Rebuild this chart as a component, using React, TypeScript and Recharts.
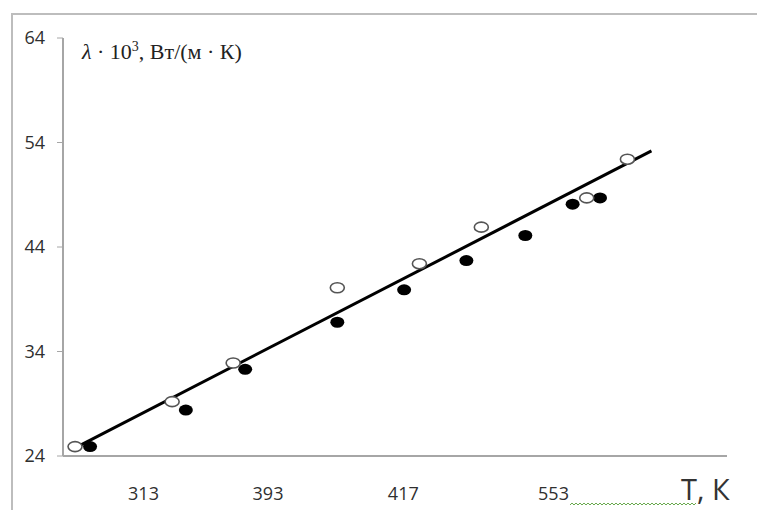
import React from 'react';
import { ScatterChart, Scatter, XAxis, YAxis } from 'recharts';

// T is placed on the chart's 0..8 slot scale: the printed kelvin labels are not evenly spaced
const openT = [0.145, 1.315, 2.05, 3.305, 4.294, 5.04, 6.31, 6.8];
const openLambda = [24.9, 29.2, 32.9, 40.1, 42.4, 45.9, 48.7, 52.4];
const filledT = [0.326, 1.48, 2.195, 3.305, 4.11, 4.86, 5.57, 6.14, 6.47];
const filledLambda = [24.9, 28.4, 32.3, 36.8, 39.9, 42.7, 45.1, 48.1, 48.7];
const fitT = [0.2, 7.09];
const fitLambda = [25.0, 53.2];

const yTicks = [24, 34, 44, 54, 64];
const xTickMarks = [1, 2, 3, 4, 5, 6, 7];
const xLabelPos = [0.97, 2.47, 4.1, 5.91];
const xLabels = ['313', '393', '417', '553'];

const openData = openT.map((x, i) => ({ x, y: openLambda[i] }));
const filledData = filledT.map((x, i) => ({ x, y: filledLambda[i] }));
const fitData = fitT.map((x, i) => ({ x, y: fitLambda[i] }));

const tickFont = { fill: '#2f2f2f', fontSize: 18, fontFamily: 'Open Sans' };

const OpenDot = (p: any) => (
  <ellipse cx={p.cx} cy={p.cy} rx={7} ry={5} fill="#fff" stroke="#555" strokeWidth={1.6} />
);
const FilledDot = (p: any) => <ellipse cx={p.cx} cy={p.cy} rx={7} ry={5.5} fill="#000" />;

// x label tick: looks up the printed kelvin value for this position
const KelvinTick = (p: any) => {
  const i = xLabelPos.indexOf(p.payload.value);
  return (
    <text x={p.x} y={p.y} dy={12} textAnchor="middle" {...tickFont}>
      {i >= 0 ? xLabels[i] : ''}
    </text>
  );
};

export default function App() {
  return (
    <div style={{ position: 'absolute', left: 0, top: 0, width: 757, height: 510, background: '#fff', fontFamily: 'Open Sans' }}>
      {/* outer frame */}
      <div style={{ position: 'absolute', left: 11, top: 13, right: 0, bottom: 0, borderTop: '2px solid #bdbdbd', borderLeft: '2px solid #bdbdbd' }} />

      <ScatterChart width={757} height={510} margin={{ top: 38, right: 30, bottom: 0, left: 0 }} style={{ position: 'absolute', left: 0, top: 0 }}>
        <XAxis
          type="number"
          dataKey="x"
          domain={[0, 8]}
          ticks={xTickMarks}
          tick={false}
          tickSize={3}
          height={8}
          stroke="#a6a6a6"
          axisLine={{ stroke: '#a6a6a6', strokeWidth: 2 }}
        />
        <XAxis
          xAxisId="labels"
          type="number"
          dataKey="x"
          domain={[0, 8]}
          ticks={xLabelPos}
          interval={0}
          axisLine={false}
          tickLine={false}
          tickSize={0}
          tickMargin={24}
          height={46}
          tick={<KelvinTick />}
        />
        <YAxis
          type="number"
          dataKey="y"
          domain={[24, 64]}
          ticks={yTicks}
          width={63}
          tickSize={6}
          tickMargin={12}
          tick={tickFont}
          stroke="#a6a6a6"
          axisLine={{ stroke: '#a6a6a6', strokeWidth: 2 }}
        />
        <Scatter data={fitData} line={{ stroke: '#000', strokeWidth: 3 }} shape={() => <g />} isAnimationActive={false} />
        <Scatter data={filledData} shape={FilledDot} isAnimationActive={false} />
        <Scatter data={openData} shape={OpenDot} isAnimationActive={false} />
        {/* invisible copy bound to the label axis so that axis gets rendered */}
        <Scatter xAxisId="labels" data={fitData} shape={() => <g />} isAnimationActive={false} />
      </ScatterChart>

      {/* y axis title */}
      <div style={{ position: 'absolute', left: 82, top: 39, fontFamily: 'Liberation Serif', fontSize: 22, color: '#222', whiteSpace: 'nowrap', lineHeight: 1.2 }}>
        <i>λ</i> · 10<sup style={{ fontSize: 14 }}>3</sup>, Вт/(м · К)
      </div>

      {/* x axis title */}
      <div style={{ position: 'absolute', left: 681, top: 474, fontSize: 29, lineHeight: 1, color: '#333', whiteSpace: 'nowrap' }}>
        T, К
      </div>
      <svg style={{ position: 'absolute', left: 570, top: 501 }} width={126} height={6}>
        <defs>
          <pattern id="squiggle" width={4} height={6} patternUnits="userSpaceOnUse">
            <path d="M0 4 L2 2 L4 4" fill="none" stroke="#6aaa4f" strokeWidth={1} />
          </pattern>
        </defs>
        <rect width={126} height={6} fill="url(#squiggle)" />
      </svg>
    </div>
  );
}
